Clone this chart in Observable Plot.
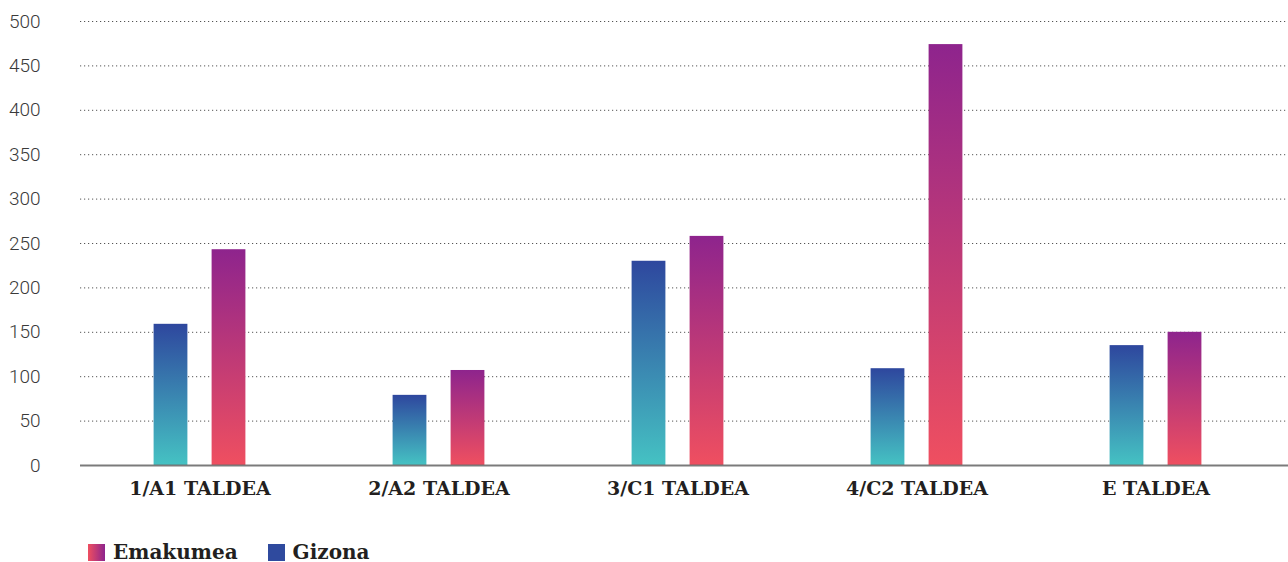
<!DOCTYPE html>
<html>
<head>
<meta charset="utf-8">
<script src="https://cdn.jsdelivr.net/npm/d3@7"></script>
<script src="https://cdn.jsdelivr.net/npm/@observablehq/plot@0.6"></script>
<style>
  html, body { margin: 0; padding: 0; background: #fff; overflow: hidden; }
  #chart svg { display: block; }
  .legend { display: flex; align-items: center; margin-top: 21px; padding-left: 88px; height: 18px;
    font-family: "DejaVu Serif", serif; font-weight: bold; font-size: 20px; line-height: 18px; color: #231f20; }
  .legend .item { display: flex; align-items: center; margin-right: 30px; }
  .legend .sw { width: 17px; height: 17px; margin-right: 8px; }
</style>
</head>
<body>
<div id="chart"></div>
<div class="legend">
  <div class="item"><div class="sw" style="background: linear-gradient(to right, #ef4f60, #8e248d);"></div>Emakumea</div>
  <div class="item"><div class="sw" style="background: #2f4a9e;"></div>Gizona</div>
</div>
<script>
const groups = ["1/A1 TALDEA", "2/A2 TALDEA", "3/C1 TALDEA", "4/C2 TALDEA", "E TALDEA"];
const gizona = [159, 79, 230, 109, 135];
const emakumea = [243, 107, 258, 474, 150];
const yTicks = [0, 50, 100, 150, 200, 250, 300, 350, 400, 450, 500];

const menData = groups.map((g, i) => ({group: g, value: gizona[i]}));
const womenData = groups.map((g, i) => ({group: g, value: emakumea[i]}));

const xRange = [79, 1275];
const bandW = (xRange[1] - xRange[0]) / groups.length;
const barW = 34, gap = 24;
const outer = bandW / 2 - gap / 2 - barW;
const inner = bandW / 2 + gap / 2;

const plot = Plot.plot({
  width: 1288,
  height: 522,
  marginLeft: 80,
  marginRight: 0,
  marginTop: 21,
  marginBottom: 57,
  x: {domain: groups, range: xRange, padding: 0, label: null},
  y: {domain: [0, 500], label: null},
  style: {background: "#fff"},
  marks: [
    Plot.ruleY(yTicks.filter(d => d > 0), {stroke: "#555", strokeWidth: 1, strokeDasharray: "1.2,2.8"}),
    Plot.barY(menData, {x: "group", y: "value", fill: "url(#gradMen)", insetLeft: outer, insetRight: inner}),
    Plot.barY(womenData, {x: "group", y: "value", fill: "url(#gradWomen)", insetLeft: inner, insetRight: outer}),
    Plot.ruleY([0], {stroke: "#6d6d6d", strokeWidth: 2, strokeOpacity: 0.9}),
    Plot.axisY({ticks: yTicks, tickSize: 0, tickPadding: 40, label: null,
      fontSize: 19, fontFamily: "Roboto", fontWeight: 300, fill: "#3a3a3a"}),
    Plot.axisX({tickSize: 0, tickPadding: 16, label: null,
      fontSize: 19, fontFamily: "DejaVu Serif", fontWeight: "bold", fill: "#231f20"})
  ]
});

const svg = d3.select(plot);
const defs = svg.insert("defs", ":first-child");
function grad(id, bottom, top) {
  const g = defs.append("linearGradient").attr("id", id)
    .attr("x1", 0).attr("y1", 1).attr("x2", 0).attr("y2", 0);
  g.append("stop").attr("offset", "0%").attr("stop-color", bottom);
  g.append("stop").attr("offset", "100%").attr("stop-color", top);
}
grad("gradMen", "#45c2c3", "#2e479e");
grad("gradWomen", "#ef4f60", "#8e248d");

document.getElementById("chart").appendChild(plot);
</script>
</body>
</html>
